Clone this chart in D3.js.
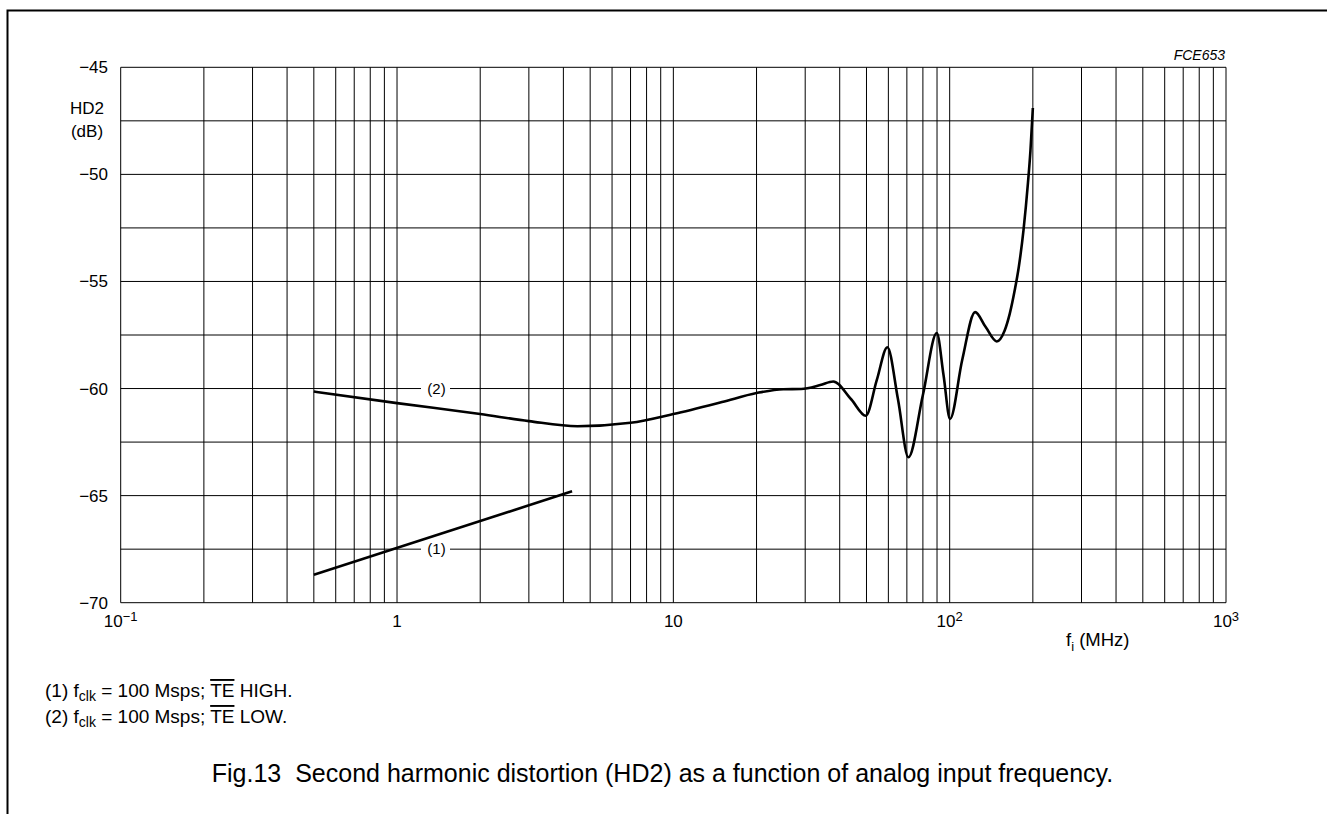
<!DOCTYPE html>
<html>
<head>
<meta charset="utf-8">
<script src="https://cdn.jsdelivr.net/npm/d3@7"></script>
<style>
  html, body { margin: 0; padding: 0; background: #fff; }
  svg { display: block; font-family: "Liberation Sans", Arial, sans-serif; }
</style>
</head>
<body>
<svg id="chart" width="1327" height="814"></svg>
<script>
// ---- data ----
const curve1Freq = [0.5, 4.3];
const curve1HD2  = [-68.7, -64.8];

const curve2Freq = [0.5, 1, 2, 3, 4.5, 7, 10, 15, 20, 25, 29, 34, 37.9, 44, 49.7, 54.5, 59.5, 65, 70.9, 80, 89.8, 95, 100.3, 111, 123.6, 135, 148, 158, 165, 172, 178, 185, 192, 196, 200];
const curve2HD2  = [-60.14, -60.68, -61.19, -61.52, -61.76, -61.6, -61.19, -60.63, -60.21, -60.03, -60.02, -59.84, -59.67, -60.5, -61.27, -59.6, -58.07, -60.5, -63.21, -60.3, -57.41, -59.37, -61.42, -58.67, -56.43, -57.13, -57.8, -57.3, -56.5, -55.4, -54.3, -52.6, -50.4, -48.9, -46.9];

const xTickValues = [0.1, 1, 10, 100, 1000];
const xTickBase   = ["10", "1", "10", "10", "10"];
const xTickExp    = ["\u22121", "", "", "2", "3"];
const yTickValues = [-45, -50, -55, -60, -65, -70];
const yGridValues = [-45, -47.5, -50, -52.5, -55, -57.5, -60, -62.5, -65, -67.5, -70];

// ---- layout ----
const svg = d3.select("#chart");
const x = d3.scaleLog().domain([0.1, 1000]).range([120.7, 1226]);
const y = d3.scaleLinear().domain([-70, -45]).range([602.7, 67.3]);

// outer frame (open at right and bottom)
svg.append("path")
  .attr("d", "M7.5,814 V10.5 H1327")
  .attr("fill", "none").attr("stroke", "#000").attr("stroke-width", 2);

// vertical grid
const xGrid = [];
for (let e = -1; e <= 2; e++) for (let k = 1; k <= 9; k++) xGrid.push(k * Math.pow(10, e));
xGrid.push(1000);
const g = svg.append("g");
g.selectAll("line.v").data(xGrid).join("line")
  .attr("x1", d => x(d)).attr("x2", d => x(d))
  .attr("y1", y(-45)).attr("y2", y(-70))
  .attr("stroke", "#000").attr("stroke-width", 1);
g.selectAll("line.h").data(yGridValues).join("line")
  .attr("x1", x(0.1)).attr("x2", x(1000))
  .attr("y1", d => y(d)).attr("y2", d => y(d))
  .attr("stroke", "#000").attr("stroke-width", 1);

// y tick labels
svg.selectAll("text.yt").data(yTickValues).join("text")
  .attr("x", 108).attr("y", d => y(d) + 6)
  .attr("text-anchor", "end").attr("font-size", 17)
  .text(d => "\u2212" + Math.abs(d));

// x tick labels
const xt = svg.selectAll("text.xt").data(xTickValues).join("text")
  .attr("x", d => x(d)).attr("y", 627)
  .attr("text-anchor", "middle").attr("font-size", 17);
xt.each(function(d, i) {
  const t = d3.select(this);
  t.append("tspan").text(xTickBase[i]);
  if (xTickExp[i]) t.append("tspan").attr("dy", -6).attr("font-size", 13).text(xTickExp[i]);
});

// axis titles
svg.append("text").attr("x", 87).attr("y", 114).attr("text-anchor", "middle").attr("font-size", 17).text("HD2");
svg.append("text").attr("x", 87).attr("y", 137).attr("text-anchor", "middle").attr("font-size", 17).text("(dB)");
const xl = svg.append("text").attr("x", 1066).attr("y", 646).attr("font-size", 18.5);
xl.append("tspan").text("f");
xl.append("tspan").attr("dy", 5).attr("font-size", 13).text("i");
xl.append("tspan").attr("dy", -5).text(" (MHz)");

svg.append("text").attr("x", 1225).attr("y", 60).attr("text-anchor", "end")
  .attr("font-size", 14).attr("font-style", "italic").text("FCE653");

// curves
const line = d3.line().x(d => x(d[0])).y(d => y(d[1])).curve(d3.curveMonotoneX);
const c1 = curve1Freq.map((f, i) => [f, curve1HD2[i]]);
const c2 = curve2Freq.map((f, i) => [f, curve2HD2[i]]);
svg.append("path").attr("d", line(c1)).attr("fill", "none").attr("stroke", "#000").attr("stroke-width", 2.6);
svg.append("path").attr("d", line(c2)).attr("fill", "none").attr("stroke", "#000").attr("stroke-width", 2.6);

// curve labels on grid lines
const curveLabels = [["(2)", -60], ["(1)", -67.5]];
curveLabels.forEach(([t, v]) => {
  svg.append("rect").attr("x", 421).attr("y", y(v) - 6).attr("width", 29).attr("height", 12).attr("fill", "#fff");
  svg.append("text").attr("x", 436.5).attr("y", y(v) + 5).attr("text-anchor", "middle").attr("font-size", 15).text(t);
});

// footnotes
const notes = [["(1) f", "clk", " = 100 Msps; ", "TE", " HIGH."], ["(2) f", "clk", " = 100 Msps; ", "TE", " LOW."]];
notes.forEach((n, i) => {
  const t = svg.append("text").attr("x", 45).attr("y", 697 + i * 26).attr("font-size", 19);
  t.append("tspan").text(n[0]);
  t.append("tspan").attr("dy", 4).attr("font-size", 14).text(n[1]);
  t.append("tspan").attr("dy", -4).text(n[2]);
  t.append("tspan").attr("style", "text-decoration: overline").text(n[3]);
  t.append("tspan").text(n[4]);
});

// caption
svg.append("text").attr("x", 662.5).attr("y", 782).attr("text-anchor", "middle").attr("font-size", 25)
  .attr("xml:space", "preserve")
  .text("Fig.13  Second harmonic distortion (HD2) as a function of analog input frequency.");
</script>
</body>
</html>
